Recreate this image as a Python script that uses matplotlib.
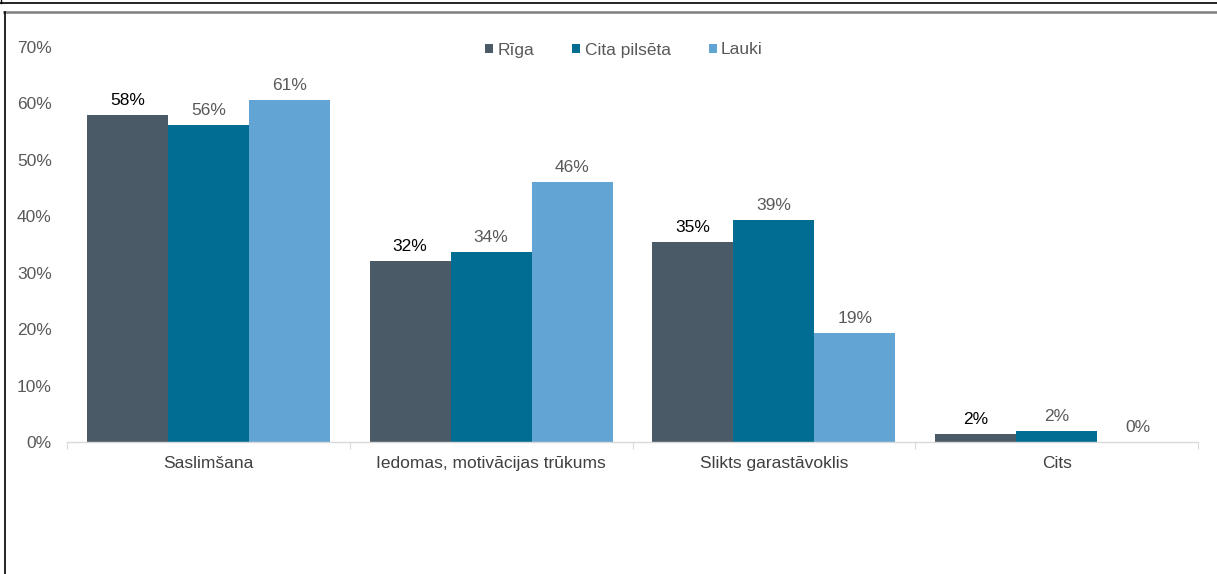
import numpy as np
import matplotlib.pyplot as plt
from matplotlib.lines import Line2D

plt.rcParams["font.family"] = ["Liberation Sans", "DejaVu Sans"]

categories = ["Saslimšana", "Iedomas, motivācijas trūkums", "Slikts garastāvoklis", "Cits"]
series_names = ["Rīga", "Cita pilsēta", "Lauki"]
riga = [58.0, 32.1, 35.4, 1.4]
cita = [56.2, 33.7, 39.4, 2.0]
lauki = [60.6, 46.1, 19.3, 0.0]
value_labels = [
    ["58%", "32%", "35%", "2%"],
    ["56%", "34%", "39%", "2%"],
    ["61%", "46%", "19%", "0%"],
]
y_ticks = [0, 10, 20, 30, 40, 50, 60, 70]

colors = ["#4a5a67", "#016d93", "#62a5d4"]
label_colors = ["#000000", "#595959", "#595959"]
FS = 12.5

W, H = 1217, 574
fig = plt.figure(figsize=(W / 100, H / 100), dpi=100)
ax = fig.add_axes([67 / W, 1 - 442 / H, (1198 - 67) / W, (442 - 47) / H])

x = np.arange(len(categories))
width = 0.2865
bars = []
for i, vals in enumerate([riga, cita, lauki]):
    b = ax.bar(x + (i - 1) * width, vals, width, color=colors[i],
               label=series_names[i])
    ax.bar_label(b, labels=value_labels[i], padding=5, fontsize=FS,
                 color=label_colors[i])
    bars.append(b)

ax.set_xlim(-0.5, len(categories) - 0.5)
ax.set_ylim(0, 70)
ax.set_yticks(y_ticks)
ax.set_yticklabels([f"{t}%" for t in y_ticks])

# category ticks at group boundaries, labels in the middle
ax.set_xticks(np.arange(len(categories) + 1) - 0.5)
ax.set_xticklabels([])
ax.set_xticks(x, minor=True)
ax.set_xticklabels(categories, minor=True)
ax.tick_params(axis="x", which="major", length=5, color="#d9d9d9")
ax.tick_params(axis="x", which="minor", length=0, pad=10,
               labelsize=FS, labelcolor="#404040")
ax.tick_params(axis="y", length=0, pad=11, labelsize=FS, labelcolor="#595959")

for s in ["top", "right", "left"]:
    ax.spines[s].set_visible(False)
ax.spines["bottom"].set_color("#d9d9d9")
ax.spines["bottom"].set_linewidth(1)

fig.legend(handles=bars, labels=series_names, loc="center",
           bbox_to_anchor=(624 / W, 1 - 50 / H), ncol=3, frameon=False,
           fontsize=FS, handlelength=0.45, handleheight=0.45,
           handletextpad=0.25, columnspacing=2.2, labelcolor="#595959")

# outer frame lines
fig.add_artist(Line2D([0, 1], [1 - 2.5 / H, 1 - 2.5 / H], color="black", lw=1.2))
fig.add_artist(Line2D([0.5 / W, 0.5 / W], [1 - 2.5 / H, 1], color="black", lw=1))
fig.add_artist(Line2D([4 / W, 1], [1 - 11.5 / H, 1 - 11.5 / H],
                      color="#7f7f7f", lw=1.8))
fig.add_artist(Line2D([4.5 / W, 4.5 / W], [0, 1 - 11.5 / H], color="black", lw=1.2))

fig.savefig("out.png", dpi=100)
